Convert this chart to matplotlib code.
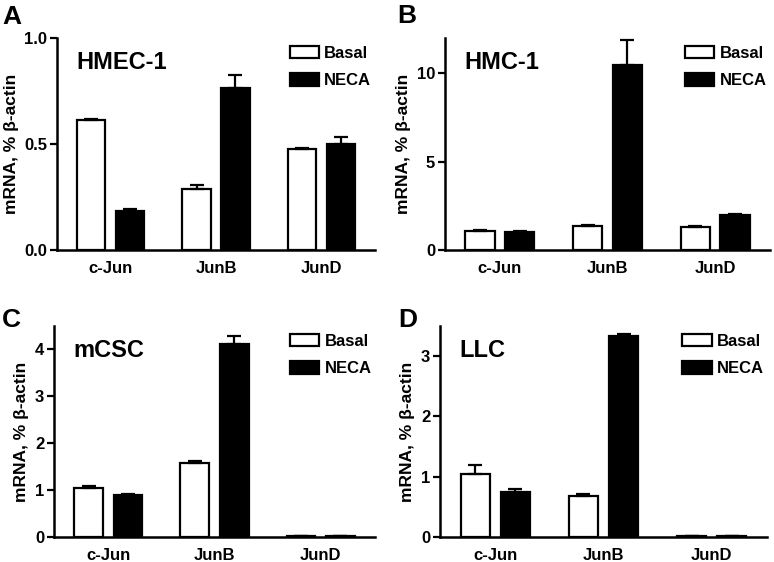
import numpy as np
import matplotlib.pyplot as plt
from matplotlib.patches import Patch

plt.rcParams['font.family'] = ['Liberation Sans', 'DejaVu Sans']
plt.rcParams['font.weight'] = 'bold'

genes = ['c-Jun', 'JunB', 'JunD']

# panel A: HMEC-1
hmec_basal = [0.615, 0.288, 0.477]
hmec_basal_err = [0.003, 0.017, 0.003]
hmec_neca = [0.186, 0.763, 0.500]
hmec_neca_err = [0.008, 0.063, 0.035]

# panel B: HMC-1
hmc_basal = [1.10, 1.36, 1.29]
hmc_basal_err = [0.05, 0.04, 0.05]
hmc_neca = [1.04, 10.5, 1.99]
hmc_neca_err = [0.02, 1.4, 0.05]

# panel C: mCSC
mcsc_basal = [1.05, 1.58, 0.02]
mcsc_basal_err = [0.03, 0.05, 0.0]
mcsc_neca = [0.90, 4.12, 0.02]
mcsc_neca_err = [0.01, 0.17, 0.0]

# panel D: LLC
llc_basal = [1.04, 0.68, 0.01]
llc_basal_err = [0.16, 0.03, 0.0]
llc_neca = [0.74, 3.34, 0.01]
llc_neca_err = [0.05, 0.02, 0.0]

# letter, title, data..., ymax, yticks, fmt, axes box in px (left, right, top, bottom), letter pos px
panels = [
    ('A', 'HMEC-1', hmec_basal, hmec_basal_err, hmec_neca, hmec_neca_err,
     1.0, [0.0, 0.5, 1.0], '%.1f', [57, 375, 38, 250], (2, 5)),
    ('B', 'HMC-1', hmc_basal, hmc_basal_err, hmc_neca, hmc_neca_err,
     12, [0, 5, 10], '%d', [445, 770, 38, 250], (397, 4)),
    ('C', 'mCSC', mcsc_basal, mcsc_basal_err, mcsc_neca, mcsc_neca_err,
     4.5, [0, 1, 2, 3, 4], '%d', [54, 375, 326, 537], (2, 308)),
    ('D', 'LLC', llc_basal, llc_basal_err, llc_neca, llc_neca_err,
     3.5, [0, 1, 2, 3], '%d', [440, 767, 326, 537], (398, 308)),
]

W, H = 774, 562
fig = plt.figure(figsize=(W / 100, H / 100), dpi=100)

x = np.arange(len(genes))
bw = 0.27
off = 0.185
ekw = dict(ecolor='black', elinewidth=1.6, capsize=5, capthick=1.6)

for letter, title, b, be, n, ne, ymax, yt, fmt, box, lpos in panels:
    l, r, t, btm = box
    ax = fig.add_axes([l / W, (H - btm) / H, (r - l) / W, (btm - t) / H])
    ax.bar(x - off, b, bw, color='white', edgecolor='black', linewidth=1.6,
           yerr=[np.zeros(3), be], error_kw=ekw)
    ax.bar(x + off, n, bw, color='black', edgecolor='black', linewidth=1.6,
           yerr=[np.zeros(3), ne], error_kw=ekw)
    ax.set_xlim(-0.51, 2.51)
    ax.set_ylim(0, ymax)
    ax.set_yticks(yt)
    ax.set_yticklabels([fmt % v for v in yt])
    ax.set_xticks(x)
    ax.set_xticklabels(genes)
    ax.tick_params(axis='x', length=0, labelsize=12, pad=8)
    ax.tick_params(axis='y', length=5, width=1.6, labelsize=12, pad=2)
    for s in ['top', 'right']:
        ax.spines[s].set_visible(False)
    for s in ['left', 'bottom']:
        ax.spines[s].set_linewidth(1.8)
    ax.set_ylabel('mRNA, % β-actin', fontsize=12.5, fontweight='bold', labelpad=4)
    ax.text(0.06, 0.885, title, transform=ax.transAxes, fontsize=17,
            fontweight='bold', va='center', ha='left')
    handles = [Patch(facecolor='white', edgecolor='black', linewidth=1.6),
               Patch(facecolor='black', edgecolor='black', linewidth=1.6)]
    ax.legend(handles, ['Basal', 'NECA'], loc='upper right', frameon=False,
              fontsize=12, handlelength=1.75, handleheight=0.75, handletextpad=0.3,
              labelspacing=0.75, borderaxespad=0.2, bbox_to_anchor=(1.02, 1.01))
    fig.text(lpos[0] / W, 1 - lpos[1] / H, letter, fontsize=19,
             fontweight='bold', va='top', ha='left')

fig.savefig('out.png', dpi=100)
